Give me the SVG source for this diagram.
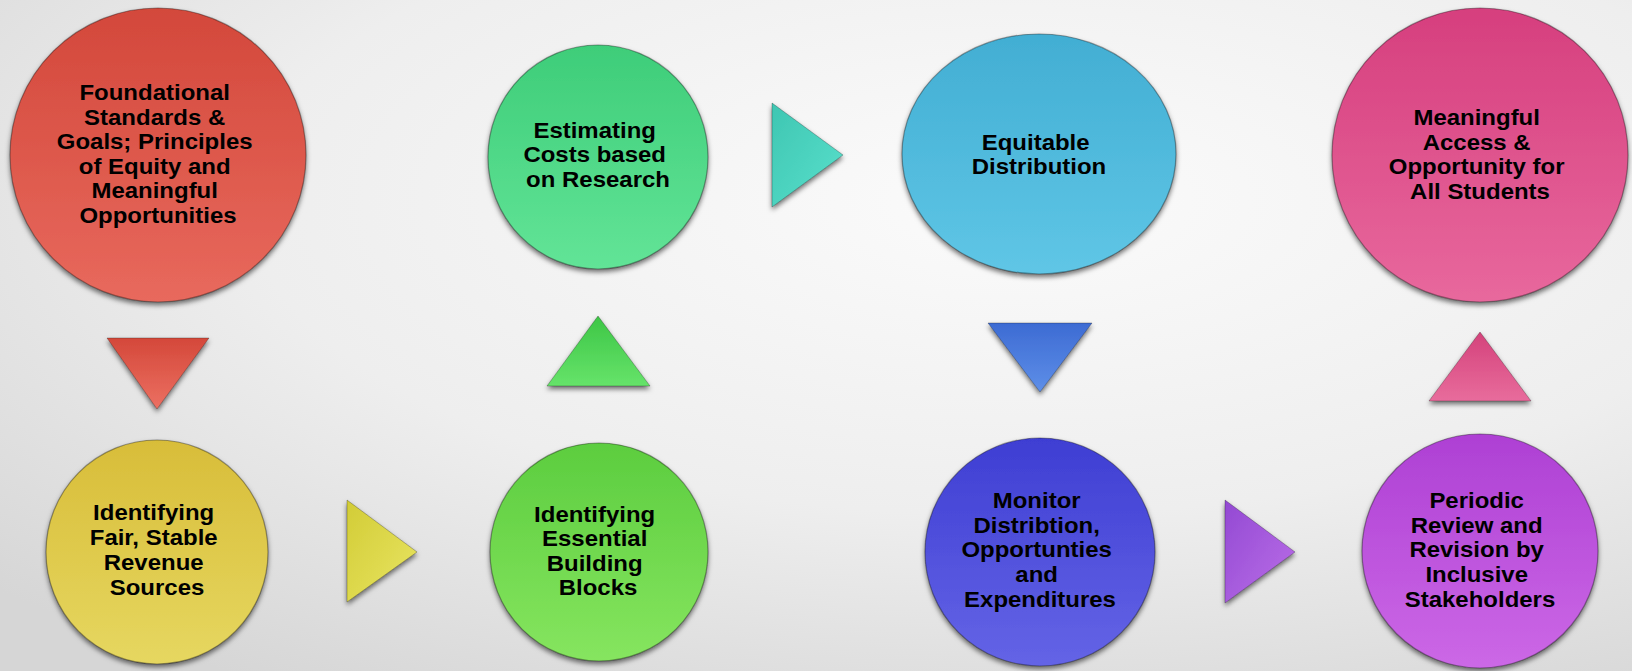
<svg xmlns="http://www.w3.org/2000/svg" width="1632" height="671" viewBox="0 0 1632 671">
<defs>
  <radialGradient id="bg" cx="0.62" cy="0.3" r="0.85">
    <stop offset="0" stop-color="#fbfbfb"/>
    <stop offset="0.55" stop-color="#eeeeee"/>
    <stop offset="1" stop-color="#d6d6d6"/>
  </radialGradient>
  <filter id="sh" x="-20%" y="-20%" width="140%" height="145%">
    <feDropShadow dx="0" dy="3" stdDeviation="2.5" flood-color="#000" flood-opacity="0.55"/>
  </filter>
  <linearGradient id="gRed" x1="0" y1="0" x2="0" y2="1"><stop offset="0" stop-color="#d3483b"/><stop offset="1" stop-color="#e8695d"/></linearGradient>
  <linearGradient id="gYel" x1="0" y1="0" x2="0" y2="1"><stop offset="0" stop-color="#d8bd39"/><stop offset="1" stop-color="#e6d760"/></linearGradient>
  <linearGradient id="gGr1" x1="0" y1="0" x2="0" y2="1"><stop offset="0" stop-color="#3ecd79"/><stop offset="1" stop-color="#62e497"/></linearGradient>
  <linearGradient id="gGr2" x1="0" y1="0" x2="0" y2="1"><stop offset="0" stop-color="#5ccd3f"/><stop offset="1" stop-color="#86e55f"/></linearGradient>
  <linearGradient id="gCyan" x1="0" y1="0" x2="0" y2="1"><stop offset="0" stop-color="#42aed3"/><stop offset="1" stop-color="#5fc6e6"/></linearGradient>
  <linearGradient id="gInd" x1="0" y1="0" x2="0" y2="1"><stop offset="0" stop-color="#3e3ed3"/><stop offset="1" stop-color="#6464e6"/></linearGradient>
  <linearGradient id="gVio" x1="0" y1="0" x2="0" y2="1"><stop offset="0" stop-color="#ae40d4"/><stop offset="1" stop-color="#cc68e6"/></linearGradient>
  <linearGradient id="gPink" x1="0" y1="0" x2="0" y2="1"><stop offset="0" stop-color="#d63f7e"/><stop offset="1" stop-color="#e8689d"/></linearGradient>
  <linearGradient id="tRed" x1="0" y1="0" x2="0" y2="1"><stop offset="0" stop-color="#d4483a"/><stop offset="1" stop-color="#ec7062"/></linearGradient>
  <linearGradient id="tYel" x1="0" y1="0" x2="1" y2="1"><stop offset="0" stop-color="#d2cc36"/><stop offset="1" stop-color="#e9e563"/></linearGradient>
  <linearGradient id="tGrn" x1="0" y1="0" x2="0" y2="1"><stop offset="0" stop-color="#3dc646"/><stop offset="1" stop-color="#66e36a"/></linearGradient>
  <linearGradient id="tTeal" x1="0" y1="0" x2="1" y2="1"><stop offset="0" stop-color="#3ec6b2"/><stop offset="1" stop-color="#5ae0cc"/></linearGradient>
  <linearGradient id="tBlue" x1="0" y1="0" x2="0" y2="1"><stop offset="0" stop-color="#3d6bd3"/><stop offset="1" stop-color="#5e8fe8"/></linearGradient>
  <linearGradient id="tPur" x1="0" y1="0" x2="1" y2="1"><stop offset="0" stop-color="#9349d3"/><stop offset="1" stop-color="#bb6fe8"/></linearGradient>
  <linearGradient id="tPink" x1="0" y1="0" x2="0" y2="1"><stop offset="0" stop-color="#d4427b"/><stop offset="1" stop-color="#e86c9c"/></linearGradient>
</defs>
<style>
  .node { filter: url(#sh); stroke: rgba(0,0,0,0.35); stroke-width: 1.2; }
  .arr { filter: url(#sh); stroke: rgba(0,0,0,0.25); stroke-width: 1; stroke-linejoin: round; }
  .lbl { font-family: "Liberation Sans", Arial, sans-serif; font-weight: bold; font-size: 22px; fill: #000; text-anchor: middle; }
</style>
<rect width="1632" height="671" fill="url(#bg)"/>

<g id="connectors">
  <polygon class="arr" fill="url(#tRed)" points="107,338 209,338 157,409"/>
  <polygon class="arr" fill="url(#tYel)" points="347,500 347,602 417,552"/>
  <polygon class="arr" fill="url(#tGrn)" points="598,316 650,386 547,386"/>
  <polygon class="arr" fill="url(#tTeal)" points="772,103 772,207 843,155"/>
  <polygon class="arr" fill="url(#tBlue)" points="988,323 1092,323 1040,392"/>
  <polygon class="arr" fill="url(#tPur)" points="1225,500 1225,603 1295,552"/>
  <polygon class="arr" fill="url(#tPink)" points="1480,332 1531,401 1429,401"/>
</g>

<g id="node-foundational">
  <ellipse class="node" cx="158" cy="155" rx="148" ry="147" fill="url(#gRed)"/>
  <text class="lbl" transform="translate(158 0) scale(1.09 1)">
    <tspan x="0" y="100">Foundational</tspan>
    <tspan x="0" y="124.6">Standards &amp;</tspan>
    <tspan x="0" y="149.2">Goals; Principles</tspan>
    <tspan x="0" y="173.8">of Equity and</tspan>
    <tspan x="0" y="198.4">Meaningful</tspan>
    <tspan x="0" y="223">Opportunities</tspan>
  </text>
</g>

<g id="node-revenue">
  <ellipse class="node" cx="157" cy="552" rx="111" ry="112" fill="url(#gYel)"/>
  <text class="lbl" transform="translate(157 0) scale(1.09 1)">
    <tspan x="0" y="520">Identifying</tspan>
    <tspan x="0" y="545">Fair, Stable</tspan>
    <tspan x="0" y="570">Revenue</tspan>
    <tspan x="0" y="595">Sources</tspan>
  </text>
</g>

<g id="node-building-blocks">
  <ellipse class="node" cx="599" cy="552" rx="109" ry="109" fill="url(#gGr2)"/>
  <text class="lbl" transform="translate(598 0) scale(1.09 1)">
    <tspan x="0" y="522">Identifying</tspan>
    <tspan x="0" y="546.3">Essential</tspan>
    <tspan x="0" y="570.6">Building</tspan>
    <tspan x="0" y="595">Blocks</tspan>
  </text>
</g>

<g id="node-estimating">
  <ellipse class="node" cx="598" cy="157" rx="110" ry="112" fill="url(#gGr1)"/>
  <text class="lbl" transform="translate(598 0) scale(1.09 1)">
    <tspan x="0" y="138">Estimating</tspan>
    <tspan x="0" y="162.5">Costs based</tspan>
    <tspan x="0" y="187">on Research</tspan>
  </text>
</g>

<g id="node-equitable">
  <ellipse class="node" cx="1039" cy="154" rx="137" ry="120" fill="url(#gCyan)"/>
  <text class="lbl" transform="translate(1039 0) scale(1.09 1)">
    <tspan x="0" y="150">Equitable</tspan>
    <tspan x="0" y="174">Distribution</tspan>
  </text>
</g>

<g id="node-monitor">
  <ellipse class="node" cx="1040" cy="552" rx="115" ry="114" fill="url(#gInd)"/>
  <text class="lbl" transform="translate(1040 0) scale(1.09 1)">
    <tspan x="0" y="508">Monitor</tspan>
    <tspan x="0" y="532.8">Distribtion,</tspan>
    <tspan x="0" y="557.5">Opportunties</tspan>
    <tspan x="0" y="582.3">and</tspan>
    <tspan x="0" y="607">Expenditures</tspan>
  </text>
</g>

<g id="node-periodic">
  <ellipse class="node" cx="1480" cy="551" rx="118" ry="117" fill="url(#gVio)"/>
  <text class="lbl" transform="translate(1480 0) scale(1.09 1)">
    <tspan x="0" y="508">Periodic</tspan>
    <tspan x="0" y="532.8">Review and</tspan>
    <tspan x="0" y="557.5">Revision by</tspan>
    <tspan x="0" y="582.3">Inclusive</tspan>
    <tspan x="0" y="607">Stakeholders</tspan>
  </text>
</g>

<g id="node-meaningful">
  <ellipse class="node" cx="1480" cy="155" rx="148" ry="147" fill="url(#gPink)"/>
  <text class="lbl" transform="translate(1480 0) scale(1.09 1)">
    <tspan x="0" y="125">Meaningful</tspan>
    <tspan x="0" y="149.7">Access &amp;</tspan>
    <tspan x="0" y="174.3">Opportunity for</tspan>
    <tspan x="0" y="199">All Students</tspan>
  </text>
</g>
</svg>
